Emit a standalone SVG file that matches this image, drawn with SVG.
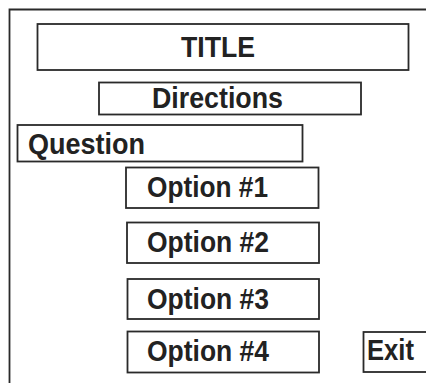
<svg xmlns="http://www.w3.org/2000/svg" width="426" height="383" viewBox="0 0 426 383">
<style>
.box{fill:#fff;stroke:#2a2a2a;stroke-width:1.8}
.frame{fill:none;stroke:#2a2a2a;stroke-width:1.8}
.t{font-family:"Liberation Sans",Arial,sans-serif;font-weight:bold;font-size:29px;fill:#222}
</style>
<rect width="426" height="383" fill="#fff"/>
<g id="frame"><path class="frame" d="M9.5 383 V9.5 H426"/></g>
<g id="title"><rect class="box" x="37.5" y="24" width="371" height="46"/><text class="t" x="181" y="57" font-size="30" textLength="74" lengthAdjust="spacingAndGlyphs">TITLE</text></g>
<g id="directions"><rect class="box" x="99" y="82.5" width="262" height="32"/><text class="t" x="152" y="108" textLength="131" lengthAdjust="spacingAndGlyphs">Directions</text></g>
<g id="question"><rect class="box" x="17.5" y="125" width="285" height="36.5"/><text class="t" x="28" y="154" textLength="117" lengthAdjust="spacingAndGlyphs">Question</text></g>
<g id="option1"><rect class="box" x="126" y="167.5" width="192.5" height="40.5"/><text class="t" x="147" y="197" textLength="121" lengthAdjust="spacingAndGlyphs">Option #1</text></g>
<g id="option2"><rect class="box" x="127" y="222.5" width="192" height="40.5"/><text class="t" x="147" y="252" textLength="122" lengthAdjust="spacingAndGlyphs">Option #2</text></g>
<g id="option3"><rect class="box" x="127.5" y="279" width="191.5" height="40"/><text class="t" x="147" y="309" textLength="122" lengthAdjust="spacingAndGlyphs">Option #3</text></g>
<g id="option4"><rect class="box" x="127.5" y="331.5" width="191.5" height="41"/><text class="t" x="147" y="361" textLength="122" lengthAdjust="spacingAndGlyphs">Option #4</text></g>
<g id="exit"><rect class="box" x="363.5" y="332" width="70" height="40"/><text class="t" x="367" y="360" textLength="47" lengthAdjust="spacingAndGlyphs">Exit</text></g>
<g id="connectors"></g>
</svg>
